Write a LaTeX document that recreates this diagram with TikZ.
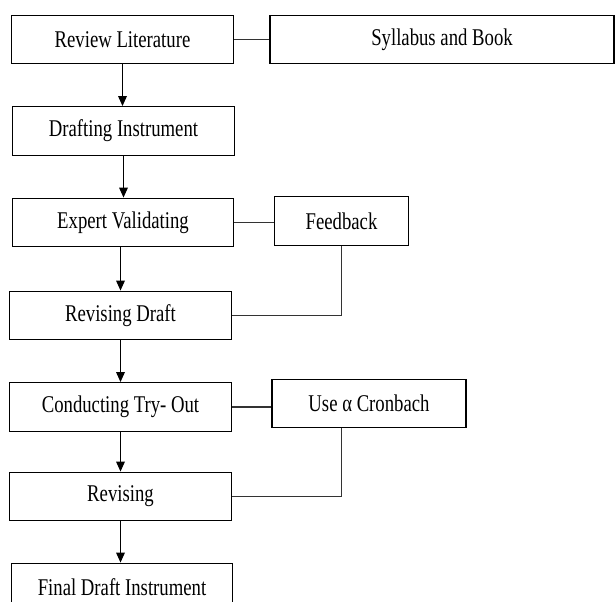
\documentclass[tikz,border=0pt]{standalone}
\usepackage{fontspec}
\setmainfont{Liberation Serif}[FakeStretch=0.78]
\usetikzlibrary{positioning, arrows.meta, calc}

\begin{document}
\begin{tikzpicture}[
		x=0.75pt, y=-0.75pt,
		font=\fontsize{18}{20}\selectfont,
		stage/.style={draw=black, line width=0.9pt, fill=white, minimum width=166pt, minimum height=36.5pt, inner sep=2pt},
		flow/.style={-{Triangle[length=7.5pt, width=6.5pt]}, line width=0.9pt, black},
		link/.style={line width=0.9pt, black!80}
		]
		
		% page frame (last box runs off the bottom edge)
		\clip (0,0) rectangle (615,602);
		
		% 1. Main column
		\node[stage] (review) at (122.5,39.5) {Review Literature};
		\node[stage] (drafting) at (123.5,131) {Drafting Instrument};
		\node[stage] (expert) at (123,222.5) {Expert Validating};
		\node[stage] (revdraft) at (120.5,315.5) {Revising Draft};
		\node[stage] (tryout) at (120.5,407) {Conducting Try- Out};
		\node[stage] (revising) at (120.5,496.5) {Revising};
		\node[stage] (final) at (122,587.5) {Final Draft Instrument};
		
		% 2. Side boxes
		\node[stage, minimum width=258pt] (syllabus) at (442,39.5) {Syllabus and Book};
		\node[stage, minimum width=101pt] (feedback) at (341.5,221) {Feedback};
		\node[stage, minimum width=145.5pt] (cronbach) at (369,403.5) {Use α Cronbach};
		
		% Flow arrows (kept vertical)
		\draw[flow] (review.south) -- (review.south |- drafting.north);
		\draw[flow] (drafting.south) -- (drafting.south |- expert.north);
		\draw[flow] (revdraft.north |- expert.south) -- (revdraft.north);
		\draw[flow] (revdraft.south) -- (revdraft.south |- tryout.north);
		\draw[flow] (tryout.south) -- (tryout.south |- revising.north);
		\draw[flow] (revising.south) -- (revising.south |- final.north);
		
		% Side links
		\draw[link] (review.east) -- (syllabus.west);
		\draw[link] (expert.east) -- (expert.east -| feedback.west);
		\draw[link] (tryout.east) -- (tryout.east -| cronbach.west);
		
		% Loops back into the revisions
		\draw[link] (feedback.south) |- (revdraft.east);
		\draw[link] (cronbach.south -| feedback.south) |- (revising.east);
		
	\end{tikzpicture}
\end{document}
